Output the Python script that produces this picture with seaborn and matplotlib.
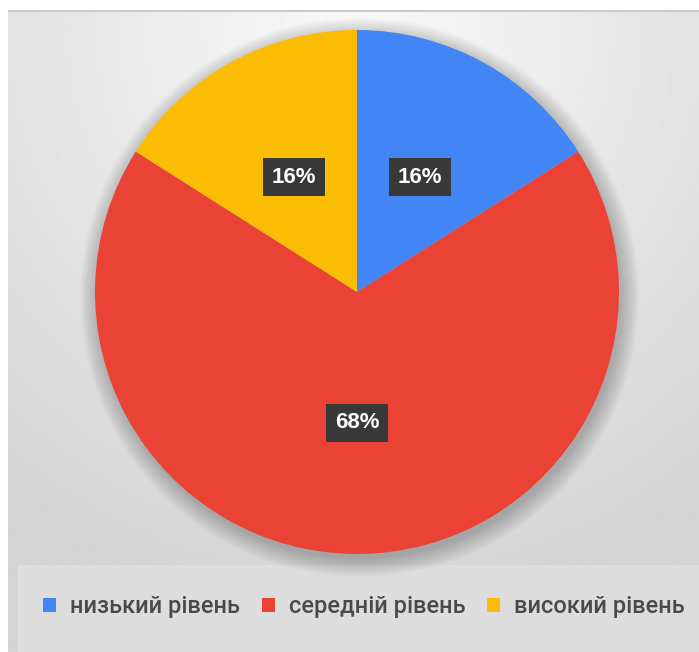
import numpy as np
import matplotlib
matplotlib.use("Agg")
import matplotlib.pyplot as plt
import seaborn as sns
from matplotlib.patches import Rectangle, Circle

# ── data ─────────────────────────────────────────────
categories = ["низький рівень", "середній рівень", "високий рівень"]
values = [16, 68, 16]
colors = ["#4285f4", "#ea4335", "#fbbc04"]

sns.set_theme(style="white")
plt.rcParams['font.family'] = ['Liberation Sans', 'DejaVu Sans']

W, H = 699, 652
fig = plt.figure(figsize=(W / 100, H / 100), dpi=100)
fig.patch.set_facecolor("white")

# ── background panel with soft radial gradient ───────
bg = fig.add_axes([8 / W, 0, 1 - 8 / W, 1 - 10 / H])
bg.set_axis_off()
yy, xx = np.mgrid[0:300, 0:300]
cx, cy = 150, 10
d = np.sqrt(((xx - cx) / 300) ** 2 + ((yy - cy) / 330) ** 2)
grad = 0.975 - 0.14 * np.clip(d / 0.8, 0, 1)
bg.imshow(grad, cmap="gray", vmin=0, vmax=1, aspect="auto",
          extent=[0, 1, 0, 1], origin="upper")
bg.set_xlim(0, 1)
bg.set_ylim(0, 1)
bg.plot([0, 1], [1, 1], color="#c8c8c8", lw=2)
# legend band
bg.add_patch(Rectangle((10 / (W - 8), 0), 1, (652 - 565) / (H - 10),
                       facecolor="#dddddd", edgecolor="none"))

# ── pie ──────────────────────────────────────────────
r = 262
ax = fig.add_axes([(357 - r) / W, (H - 292 - r) / H, 2 * r / W, 2 * r / H])
ax.set_axis_off()
ax.set_facecolor("none")

# soft shadow
for k in range(12):
    ax.add_patch(Circle((0.01, -0.02), 1.0 + 0.006 * k, facecolor="black",
                        alpha=0.018, edgecolor="none", zorder=0,
                        clip_on=False))

wedges, texts, autotexts = ax.pie(
    values, colors=colors, startangle=90, counterclock=False,
    autopct="%1.0f%%", pctdistance=0.5,
    wedgeprops=dict(linewidth=0),
    textprops=dict(color="white", fontsize=16, fontweight="bold"))
for t in autotexts:
    t.set_bbox(dict(boxstyle="square,pad=0.38", facecolor="#383838",
                    edgecolor="none"))
ax.set_xlim(-1, 1)
ax.set_ylim(-1, 1)

# ── legend ───────────────────────────────────────────
handles = [Rectangle((0, 0), 1, 1, facecolor=c, edgecolor="none") for c in colors]
leg = fig.legend(handles, categories, loc="center", ncol=3,
                 bbox_to_anchor=(364 / W, 1 - 607 / H), frameon=False,
                 handlelength=0.55, handleheight=0.55, handletextpad=0.6,
                 columnspacing=0.9,
                 prop=dict(family=["Roboto", "DejaVu Sans"], size=17,
                           weight="medium"))
for t in leg.get_texts():
    t.set_color("#4a4a4a")

fig.savefig("out.png", dpi=100)
